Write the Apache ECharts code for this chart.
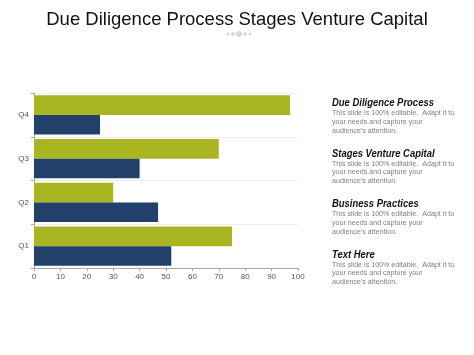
<!DOCTYPE html>
<html><head><meta charset="utf-8">
<script src="https://cdn.jsdelivr.net/npm/echarts@6/dist/echarts.min.js"></script>
<style>html,body{margin:0;padding:0;background:#fff}#c{width:474px;height:355px}</style>
</head><body><div id="c"></div>
<script>
var categories = ['Q1', 'Q2', 'Q3', 'Q4'];
var seriesGreen = [75, 30, 70, 97];
var seriesNavy = [52, 47, 40, 25];
var xTicks = [0, 10, 20, 30, 40, 50, 60, 70, 80, 90, 100];
var noteTitles = ['Due Diligence Process', 'Stages Venture Capital', 'Business Practices', 'Text Here'];
var noteBody = ['This slide is 100% editable.  Adapt it to', 'your needs and capture your', "audience's attention."];
var chartTitle = 'Due Diligence Process Stages Venture Capital';

var chart = echarts.init(document.getElementById('c'));
var graphics = [];
noteTitles.forEach(function (t, i) {
  var y0 = 98 + i * 50.5;
  graphics.push({type: 'text', x: 332, y: y0, scaleX: 0.9, style: {text: t, font: 'italic bold 10.5px "Liberation Sans", Arial', fill: '#111', textVerticalAlign: 'top'}});
  graphics.push({type: 'text', x: 332, y: y0 + 10.5, scaleX: 0.89, style: {text: noteBody.join('\n'), font: '8px "Liberation Sans", Arial', fill: '#808080', lineHeight: 8.8, textVerticalAlign: 'top'}});
});
[[228, 1.5], [233, 2], [239, 3], [245, 2], [250, 1.5]].forEach(function (d) {
  graphics.push({type: 'circle', shape: {cx: d[0], cy: 34, r: d[1]}, style: {fill: '#d8d8d8'}});
});

chart.setOption({
  animation: false,
  title: {text: chartTitle, left: 'center', top: 5, textStyle: {fontFamily: '"Liberation Sans", Arial', fontWeight: 'normal', fontSize: 18.5, color: '#111'}},
  grid: {left: 34, right: 176, top: 93, bottom: 87},
  xAxis: {
    type: 'value', min: xTicks[0], max: xTicks[xTicks.length - 1], interval: 10,
    axisLine: {show: true, lineStyle: {color: '#aaa'}},
    axisTick: {show: true, length: 3, lineStyle: {color: '#aaa'}},
    axisLabel: {fontSize: 8, color: '#555', fontFamily: '"Liberation Sans", Arial', margin: 5},
    splitLine: {show: false}
  },
  yAxis: {
    type: 'category', data: categories,
    axisLine: {show: true, lineStyle: {color: '#aaa'}},
    axisTick: {show: true, length: 3, lineStyle: {color: '#aaa'}},
    axisLabel: {fontSize: 8, color: '#555', fontFamily: '"Liberation Sans", Arial', margin: 5},
    splitLine: {show: true, lineStyle: {color: '#eee'}}
  },
  series: [
    {name: 'A', type: 'bar', data: seriesGreen, itemStyle: {color: '#A9B521'}, barGap: '0%', barCategoryGap: '10%'},
    {name: 'B', type: 'bar', data: seriesNavy, itemStyle: {color: '#21416A'}, barGap: '0%', barCategoryGap: '10%'}
  ],
  graphic: graphics
});
</script></body></html>
